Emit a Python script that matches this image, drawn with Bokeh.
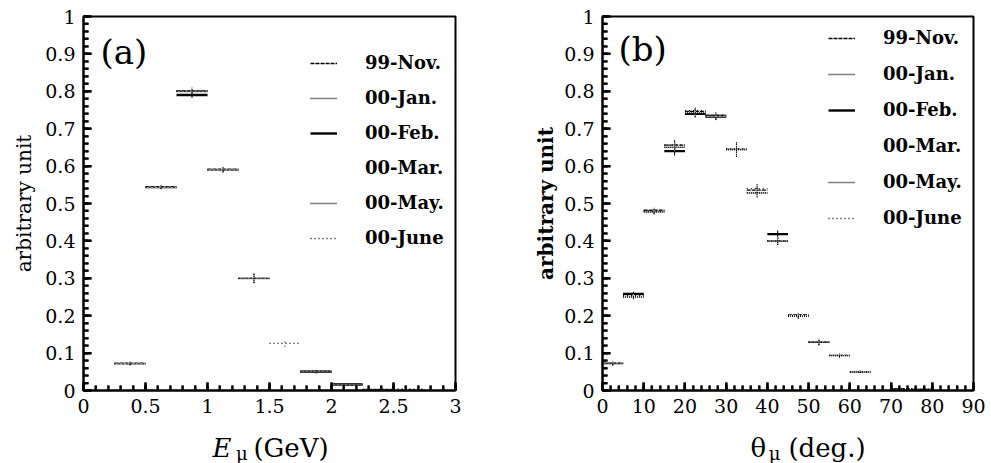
import numpy as np
from bokeh.plotting import figure
from bokeh.models import (ColumnDataSource, Range1d, FixedTicker, Legend,
                          LegendItem, Label)
from bokeh.layouts import row, column
from bokeh.core.properties import value
from bokeh.embed import file_html
from bokeh.resources import INLINE

nan = float("nan")

series_names = ["99-Nov.", "00-Jan.", "00-Feb.", "00-Mar.", "00-May.", "00-June"]

# ---------------- panel (a): muon energy ----------------
e_edges = [0.25, 0.5, 0.75, 1.0, 1.25, 1.5, 1.75, 2.0, 2.25, 2.5, 2.75]
e_nov  = [0.073, 0.545, 0.802, 0.592, 0.300, nan,   0.051, 0.016, nan,   nan]
e_jan  = [0.072, 0.543, 0.801, 0.590, 0.300, nan,   0.050, 0.015, nan,   nan]
e_feb  = [nan,   nan,   0.790, nan,   nan,   nan,   0.050, 0.016, nan,   nan]
e_mar  = [0.072, 0.543, 0.800, 0.590, 0.299, nan,   0.050, 0.015, nan,   nan]
e_may  = [0.071, 0.542, 0.799, 0.589, 0.299, nan,   0.050, 0.015, 0.003, nan]
e_june = [0.072, 0.543, 0.800, 0.590, 0.300, 0.126, 0.051, 0.015, 0.003, 0.004]
e_err  = [0.004, 0.004, 0.008, 0.006, 0.012, 0.009, 0.004, 0.003, 0.002, 0.003]

e_ticks = [0, 0.5, 1, 1.5, 2, 2.5, 3]
e_tick_labels = ["0", "0.5", "1", "1.5", "2", "2.5", "3"]

# ---------------- panel (b): muon angle ----------------
t_edges = [0, 5, 10, 15, 20, 25, 30, 35, 40, 45, 50, 55, 60, 65, 70, 75, 80]
t_nov  = [0.074, 0.258, 0.482, 0.656, 0.746, 0.736, 0.645, 0.536, 0.401, 0.202, 0.130, 0.094, 0.050, nan, 0.004, nan]
t_jan  = [0.072, 0.251, 0.478, 0.650, 0.742, 0.732, 0.644, 0.528, 0.400, 0.198, 0.129, 0.093, 0.050, nan, nan,   0.004]
t_feb  = [nan,   0.258, nan,   0.640, 0.740, 0.733, nan,   nan,   0.418, nan,   nan,   nan,   nan,   nan, nan,   nan]
t_mar  = [0.073, 0.252, 0.479, 0.652, 0.743, 0.733, 0.645, 0.530, 0.400, 0.200, 0.130, 0.093, 0.050, nan, nan,   nan]
t_may  = [0.072, 0.250, 0.478, 0.651, 0.742, 0.731, 0.644, 0.529, 0.399, 0.199, 0.129, 0.093, 0.050, nan, nan,   nan]
t_june = [0.073, 0.254, 0.480, 0.657, 0.748, 0.734, 0.646, 0.540, 0.400, 0.201, 0.130, 0.094, 0.050, nan, 0.005, 0.003]
t_err  = [0.005, 0.006, 0.007, 0.012, 0.010, 0.008, 0.020, 0.012, 0.010, 0.006, 0.008, 0.005, 0.003, 0.002, 0.003, 0.003]

t_ticks = [0, 10, 20, 30, 40, 50, 60, 70, 80, 90]
t_tick_labels = ["0", "10", "20", "30", "40", "50", "60", "70", "80", "90"]

y_ticks = [0, 0.1, 0.2, 0.3, 0.4, 0.5, 0.6, 0.7, 0.8, 0.9, 1.0]
y_tick_labels = ["0", "0.1", "0.2", "0.3", "0.4", "0.5", "0.6", "0.7", "0.8", "0.9", "1"]

# axis titles, split into pieces of different style
a_title = ["E", "\u03bc", "(GeV)"]
b_title = ["\u03b8", "\u03bc", "(deg.)"]

# line styles per series (dash, width, colour)
styles = [
    dict(line_dash="4 1", line_width=1.3, line_color="black"),
    dict(line_dash="1 1", line_width=1.3, line_color="black"),
    dict(line_dash="solid", line_width=2.4, line_color="black"),
    dict(line_dash="solid", line_width=1.0, line_color="white"),
    dict(line_dash="1 1", line_width=1.3, line_color="black"),
    dict(line_dash="1 3", line_width=1.3, line_color="black"),
]

FONT = "DejaVu Serif"
TOP, FRAME_H, BOTTOM, STRIP_H = 16, 374, 30, 43
MAJ_PX, MIN_PX = 8, 5


def add_inward_ticks(p, xmax, frame_w, x_major, x_minor, y_major, y_minor):
    """tick marks pointing into the frame along the bottom and left axes"""
    kx = xmax / frame_w      # data units per pixel, x
    ky = 1.0 / FRAME_H       # data units per pixel, y
    for ticks, px, lw in ((x_major, MAJ_PX, 2.2), (x_minor, MIN_PX, 2.0)):
        t = [float(v) for v in ticks]
        p.multi_line(xs=[[v, v] for v in t], ys=[[0.0, px * ky] for v in t],
                     line_color="black", line_width=lw, level="overlay")
    for ticks, px, lw in ((y_major, MAJ_PX, 2.2), (y_minor, MIN_PX, 2.0)):
        t = [float(v) for v in ticks]
        p.multi_line(xs=[[0.0, px * kx] for v in t], ys=[[v, v] for v in t],
                     line_color="black", line_width=lw, level="overlay")


def make_panel(edges, series, err, xrange, xmax, x_ticks, x_tick_labels,
               x_minor, width, left, right, ylabel_style, ylabel_standoff,
               legend_loc, legend_spacing):
    p = figure(width=width, height=TOP + FRAME_H + BOTTOM, x_range=xrange,
               y_range=Range1d(0, 1), output_backend="svg",
               toolbar_location=None, min_border_left=left,
               min_border_right=right, min_border_top=TOP,
               min_border_bottom=BOTTOM)
    p.grid.visible = False
    p.outline_line_color = "black"
    p.outline_line_width = 2
    p.outline_line_alpha = 1.0
    p.background_fill_color = None
    p.border_fill_color = "white"

    edges = np.asarray(edges, dtype=float)
    x0 = edges[:-1]
    x1 = edges[1:]
    xc = 0.5 * (x0 + x1)
    errs = np.asarray(err, dtype=float)

    y_minor = list(np.round(np.arange(0, 1.001, 0.02), 2))
    frame_w = width - left - right
    add_inward_ticks(p, xmax, frame_w, x_ticks, x_minor, y_ticks, y_minor)

    items = []
    for name, vals, st in zip(series_names, series, styles):
        y = np.asarray(vals, dtype=float)
        src = ColumnDataSource(dict(x0=x0, x1=x1, xc=xc, y=y,
                                    ylo=y - errs, yhi=y + errs))
        r = p.segment(x0="x0", y0="y", x1="x1", y1="y", source=src, **st)
        eb = dict(st)
        eb["line_width"] = 1.0
        p.segment(x0="xc", y0="ylo", x1="xc", y1="yhi", source=src, **eb)
        items.append(LegendItem(label=name, renderers=[r]))

    legend = Legend(items=items, location=legend_loc, padding=0, margin=0,
                    spacing=legend_spacing, glyph_width=27, glyph_height=20,
                    label_height=20, label_standoff=28,
                    label_text_font=FONT, label_text_font_style="bold",
                    label_text_font_size="18px", label_text_color="black",
                    border_line_alpha=0, background_fill_alpha=0)
    p.add_layout(legend)

    xa = p.xaxis[0]
    xa.ticker = FixedTicker(ticks=x_ticks, minor_ticks=x_minor)
    xa.major_label_overrides = {t: l for t, l in zip(x_ticks, x_tick_labels)}
    ya = p.yaxis[0]
    ya.ticker = FixedTicker(ticks=y_ticks, minor_ticks=y_minor)
    ya.major_label_overrides = {t: l for t, l in zip(y_ticks, y_tick_labels)}
    for ax in (xa, ya):
        ax.axis_line_width = 2
        ax.axis_line_color = "black"
        ax.major_tick_in = MAJ_PX
        ax.major_tick_out = 0
        ax.minor_tick_in = MIN_PX
        ax.minor_tick_out = 0
        ax.major_tick_line_width = 2.2
        ax.minor_tick_line_width = 2.0
        ax.major_tick_line_color = "black"
        ax.minor_tick_line_color = "black"
        ax.major_label_text_font = FONT
        ax.major_label_text_font_size = "19px"
        ax.major_label_text_color = "black"
        ax.major_label_standoff = 8
    ya.axis_label = "arbitrary unit"
    ya.axis_label_text_font = FONT
    ya.axis_label_text_font_style = ylabel_style
    ya.axis_label_text_font_size = "20px"
    ya.axis_label_standoff = ylabel_standoff
    ya.axis_label_text_color = "black"
    return p


def make_strip(xrange, width, left, right, pieces, xs):
    """thin figure under a panel holding the mixed-style x-axis title"""
    s = figure(width=width, height=STRIP_H, x_range=xrange,
               y_range=Range1d(0, STRIP_H), output_backend="svg",
               toolbar_location=None, min_border_left=left,
               min_border_right=right, min_border_top=0, min_border_bottom=0,
               x_axis_location=None, y_axis_location=None)
    s.grid.visible = False
    s.outline_line_color = None
    s.background_fill_color = "white"
    s.border_fill_color = "white"
    main, sub, rest = pieces
    s.text(x=[xs[0]], y=[16], text=[main], text_font=value(FONT),
           text_font_size="26px",
           text_font_style="italic" if main == "E" else "normal",
           text_color="black", text_baseline="alphabetic", text_align="left")
    s.text(x=[xs[1]], y=[10], text=[sub], text_font=value(FONT),
           text_font_size="18px", text_color="black",
           text_baseline="alphabetic", text_align="left")
    s.text(x=[xs[2]], y=[16], text=[rest], text_font=value(FONT),
           text_font_size="26px", text_color="black",
           text_baseline="alphabetic", text_align="left")
    return s


xr_a = Range1d(0, 3)
xr_b = Range1d(0, 90)

pa = make_panel(e_edges, [e_nov, e_jan, e_feb, e_mar, e_may, e_june], e_err,
                xr_a, 3, e_ticks, e_tick_labels,
                list(np.round(np.arange(0, 3.001, 0.1), 2)),
                500, 83, 45, "normal", 6, (227, 142), 14)
pb = make_panel(t_edges, [t_nov, t_jan, t_feb, t_mar, t_may, t_june], t_err,
                xr_b, 90, t_ticks, t_tick_labels,
                list(np.arange(0, 91, 2)),
                491, 102, 18, "bold", 3, (226, 162), 15)

# panel tags
pa.add_layout(Label(x=0.137, y=0.905, text="(a)", text_font=FONT,
                    text_font_size="34px", text_baseline="middle",
                    text_align="left", text_color="black"))
pb.add_layout(Label(x=3.9, y=0.913, text="(b)", text_font=FONT,
                    text_font_size="34px", text_baseline="middle",
                    text_align="left", text_color="black"))

sa = make_strip(xr_a, 500, 83, 45, a_title, [1.04, 1.23, 1.37])
sb = make_strip(xr_b, 491, 102, 18, b_title, [35.9, 40.3, 45.1])

layout = row(column(pa, sa), column(pb, sb))
open("out.html", "w").write(file_html(layout, INLINE))
